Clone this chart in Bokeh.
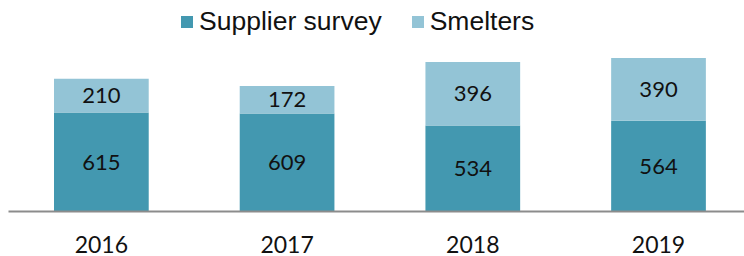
from bokeh.plotting import figure
from bokeh.models import Range1d, ColumnDataSource, Legend, LegendItem, FixedTicker
from bokeh.core.properties import value
from bokeh.embed import file_html
from bokeh.resources import INLINE

years = ["2016", "2017", "2018", "2019"]
supplier_survey = [615, 609, 534, 564]
smelters = [210, 172, 396, 390]
series_names = ["Supplier survey", "Smelters"]
colors = ["#4398B0", "#93C4D6"]

xpos = [i + 0.5 for i in range(len(years))]
totals = [a + b for a, b in zip(supplier_survey, smelters)]
src = ColumnDataSource(dict(
    x=xpos,
    sup=supplier_survey,
    sme=smelters,
    total=totals,
    sup_mid=[a / 2 for a in supplier_survey],
    sme_mid=[a + b / 2 for a, b in zip(supplier_survey, smelters)],
    sup_lbl=[str(v) for v in supplier_survey],
    sme_lbl=[str(v) for v in smelters],
))

p = figure(
    x_range=Range1d(0, 3.963),
    y_range=Range1d(0, 1312),
    width=744, height=256,
    output_backend="svg", toolbar_location=None,
    y_axis_location=None, min_border=0, min_border_left=8,
    min_border_bottom=45,
)
p.outline_line_color = None
p.xgrid.visible = False
p.ygrid.visible = False

r1 = p.vbar(x="x", bottom=0, top="sup", width=0.51, source=src,
            fill_color=colors[0], line_color=None)
r2 = p.vbar(x="x", bottom="sup", top="total", width=0.51, source=src,
            fill_color=colors[1], line_color=None)

p.text(x="x", y="sup_mid", text="sup_lbl", source=src, text_align="center",
       text_baseline="middle", text_font=value("Lato"), text_font_size="22px",
       text_color="#111111")
p.text(x="x", y="sme_mid", text="sme_lbl", source=src, text_align="center",
       text_baseline="middle", text_font=value("Lato"), text_font_size="22px",
       text_color="#111111")

ax = p.xaxis[0]
ax.ticker = FixedTicker(ticks=xpos)
ax.major_label_overrides = {x: y for x, y in zip(xpos, years)}
ax.axis_line_color = "#8C8C8C"
ax.axis_line_width = 2
ax.major_tick_line_color = None
ax.minor_tick_line_color = None
ax.major_tick_out = 0
ax.major_tick_in = 0
ax.major_label_standoff = 24
ax.major_label_text_font = "Lato"
ax.major_label_text_font_size = "23px"
ax.major_label_text_color = "#111111"

legend = Legend(
    items=[LegendItem(label=series_names[0], renderers=[r1]),
           LegendItem(label=series_names[1], renderers=[r2])],
    orientation="horizontal",
    location=(171, 174),
    glyph_width=15, glyph_height=15,
    label_standoff=5, spacing=28,
    padding=0, margin=0,
    label_text_font="Liberation Sans", label_text_font_size="26.5px",
    label_text_color="#111111",
    border_line_color=None, background_fill_alpha=0,
)
p.add_layout(legend, "center")

open("out.html", "w").write(file_html(p, INLINE))
